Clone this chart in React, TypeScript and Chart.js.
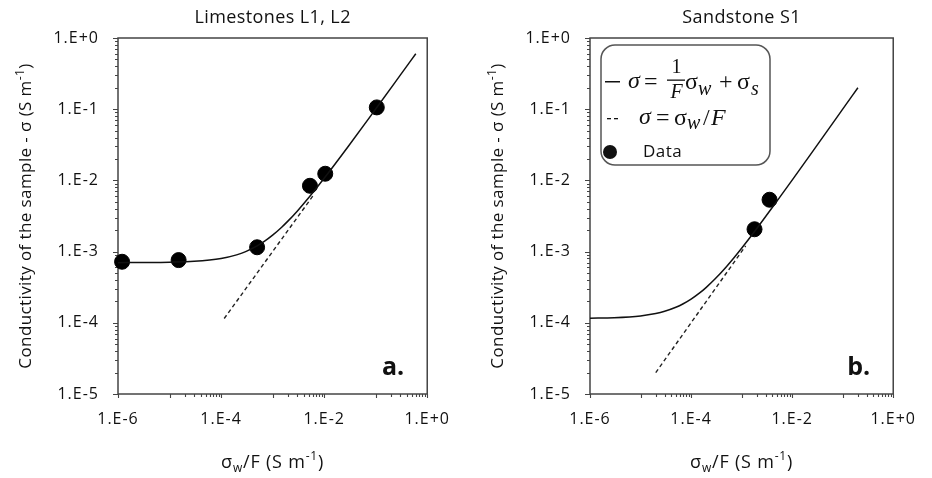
import React, { useEffect, useRef } from 'react';
import { Chart, registerables } from 'chart.js';

Chart.register(...registerables);

// ---------- data ----------
const limeDataX = [1.2e-6, 1.5e-5, 5.0e-4, 5.3e-3, 1.05e-2, 0.105];
const limeDataY = [7.2e-4, 7.6e-4, 1.15e-3, 8.4e-3, 1.24e-2, 0.106];
const limeModelX = [1e-6, 3e-6, 1e-5, 3e-5, 1e-4, 2e-4, 3e-4, 5e-4, 7e-4, 1e-3, 1.5e-3, 2e-3, 3e-3, 5e-3, 1e-2, 3e-2, 0.1, 0.3, 0.6];
const limeModelY = [7.0e-4, 7.03e-4, 7.1e-4, 7.3e-4, 8.0e-4, 9.0e-4, 1.0e-3, 1.2e-3, 1.4e-3, 1.7e-3, 2.2e-3, 2.7e-3, 3.7e-3, 5.7e-3, 1.07e-2, 3.07e-2, 0.1007, 0.3007, 0.6007];
const limeArchieX = [1.15e-4, 6e-3];
const limeArchieY = [1.15e-4, 6e-3];

const sandDataX = [1.8e-3, 3.57e-3];
const sandDataY = [2.06e-3, 5.35e-3];
const sandModelX = [1e-6, 3e-6, 1e-5, 2e-5, 3e-5, 5e-5, 7e-5, 1e-4, 1.5e-4, 2e-4, 3e-4, 5e-4, 7e-4, 1e-3, 2e-3, 5e-3, 1e-2, 3e-2, 0.1, 0.2];
const sandModelY = [1.16e-4, 1.18e-4, 1.25e-4, 1.35e-4, 1.45e-4, 1.65e-4, 1.85e-4, 2.15e-4, 2.65e-4, 3.15e-4, 4.15e-4, 6.15e-4, 8.15e-4, 1.115e-3, 2.115e-3, 5.115e-3, 1.01e-2, 3.01e-2, 0.1001, 0.2001];
const sandArchieX = [2e-5, 1.2e-3];
const sandArchieY = [2e-5, 1.2e-3];

const xTickValues = [1e-6, 1e-4, 1e-2, 1];
const xTickLabels = ['1.E-6', '1.E-4', '1.E-2', '1.E+0'];
const yTickValues = [1e-5, 1e-4, 1e-3, 1e-2, 1e-1, 1];
const yTickLabels = ['1.E-5', '1.E-4', '1.E-3', '1.E-2', '1.E-1', '1.E+0'];
const xDecades = [1e-6, 1e-5, 1e-4, 1e-3, 1e-2, 1e-1, 1];
const xMinorDecades = [1e-5, 1e-3, 1e-1];
const yMinorDecades = [1e-5, 1e-4, 1e-3, 1e-2, 1e-1];
const minorSteps = [2, 3, 4, 5, 6, 7, 8, 9];

const TEXT = '#111';
const SANS = '"Open Sans", "Noto Sans", sans-serif';
const SERIF = '"Liberation Serif", "DejaVu Serif", serif';

type Part = { t: string; size: number; dy: number; style?: string };

function drawParts(ctx: any, parts: Part[], cx: number, baseY: number, spacing: string) {
  ctx.letterSpacing = spacing;
  let total = 0;
  const widths = parts.map((p) => {
    ctx.font = `${p.style || ''} ${p.size}px ${SANS}`;
    const w = ctx.measureText(p.t).width;
    total += w;
    return w;
  });
  let x = cx - total / 2;
  ctx.textAlign = 'left';
  ctx.textBaseline = 'alphabetic';
  parts.forEach((p, i) => {
    ctx.font = `${p.style || ''} ${p.size}px ${SANS}`;
    ctx.fillText(p.t, x, baseY + p.dy);
    x += widths[i];
  });
}

function glyph(ctx: any, t: string, x: number, y: number, font: string, align: CanvasTextAlign = 'left', base: CanvasTextBaseline = 'alphabetic') {
  ctx.font = font;
  ctx.textAlign = align;
  ctx.textBaseline = base;
  ctx.fillText(t, x, y);
}

function makeDecor(title: string, label: string, legend: boolean) {
  return {
    id: 'decor',
    beforeUpdate(chart: any) {
      chart.ctx.letterSpacing = '1px';
    },
    beforeDraw(chart: any) {
      chart.ctx.letterSpacing = '1px';
    },
    beforeDatasetsDraw(chart: any) {
      const { ctx, chartArea: a, scales } = chart;
      const x = scales.x;
      const y = scales.y;
      ctx.save();
      ctx.strokeStyle = '#444';
      ctx.lineWidth = 1.5;
      ctx.strokeRect(a.left, a.top, a.right - a.left, a.bottom - a.top);
      ctx.lineWidth = 1.1;
      ctx.beginPath();
      for (const v of yTickValues) {
        const py = Math.round(y.getPixelForValue(v)) + 0.5;
        ctx.moveTo(a.left - 5, py);
        ctx.lineTo(a.left, py);
      }
      for (const d of yMinorDecades)
        for (const k of minorSteps) {
          const py = Math.round(y.getPixelForValue(k * d)) + 0.5;
          ctx.moveTo(a.left - 3, py);
          ctx.lineTo(a.left, py);
        }
      for (const v of xDecades) {
        const px = Math.round(x.getPixelForValue(v)) + 0.5;
        ctx.moveTo(px, a.bottom);
        ctx.lineTo(px, a.bottom + 4);
      }
      for (const d of xMinorDecades)
        for (const k of minorSteps) {
          const px = Math.round(x.getPixelForValue(k * d)) + 0.5;
          ctx.moveTo(px, a.bottom);
          ctx.lineTo(px, a.bottom + 3);
        }
      ctx.stroke();
      ctx.restore();
    },
    afterDraw(chart: any) {
      const { ctx, chartArea: a } = chart;
      const cx = (a.left + a.right) / 2;
      ctx.save();
      ctx.fillStyle = TEXT;
      // title
      ctx.letterSpacing = '0.4px';
      glyph(ctx, title, cx, 18, `18px ${SANS}`, 'center', 'middle');
      // panel label
      ctx.letterSpacing = '0px';
      glyph(ctx, label, a.right - 23, a.bottom - 19, `bold 25px ${SANS}`, 'right', 'alphabetic');
      // x axis title
      drawParts(ctx, [
        { t: 'σ', size: 18, dy: 0 },
        { t: 'w', size: 12, dy: 4 },
        { t: '/F (S m', size: 18, dy: 0 },
        { t: '-1', size: 12, dy: -8 },
        { t: ')', size: 18, dy: 0 },
      ], cx, 468, '0.8px');
      // y axis title
      ctx.save();
      ctx.translate(a.left - 92, (a.top + a.bottom) / 2);
      ctx.rotate(-Math.PI / 2);
      drawParts(ctx, [
        { t: 'Conductivity of the sample - σ (S m', size: 17, dy: 0 },
        { t: '-1', size: 12, dy: -7 },
        { t: ')', size: 17, dy: 0 },
      ], 0, 5, '0.4px');
      ctx.restore();

      if (legend) {
        ctx.letterSpacing = '0px';
        const x0 = a.left + 11;
        const y0 = a.top + 7;
        ctx.fillStyle = '#ffffff';
        ctx.strokeStyle = '#555';
        ctx.lineWidth = 1.5;
        ctx.beginPath();
        ctx.roundRect(x0, y0, 169, 120, 14);
        ctx.fill();
        ctx.stroke();
        ctx.fillStyle = TEXT;
        const it = `italic 24px ${SERIF}`;
        const up = `24px ${SERIF}`;
        const sm = `italic 20px ${SERIF}`;
        // row 1
        ctx.fillRect(x0 + 4, y0 + 36, 15, 1.5);
        glyph(ctx, 'σ', x0 + 27, y0 + 43, it);
        glyph(ctx, '=', x0 + 43, y0 + 44, up);
        glyph(ctx, '1', x0 + 75.5, y0 + 28, `20px ${SERIF}`, 'center');
        ctx.fillRect(x0 + 66, y0 + 34.5, 18, 1.3);
        glyph(ctx, 'F', x0 + 75.5, y0 + 53, `italic 20px ${SERIF}`, 'center');
        glyph(ctx, 'σ', x0 + 84, y0 + 44, up);
        glyph(ctx, 'w', x0 + 97, y0 + 50, sm);
        glyph(ctx, '+', x0 + 118, y0 + 44, up);
        glyph(ctx, 'σ', x0 + 136, y0 + 44, up);
        glyph(ctx, 's', x0 + 150, y0 + 50, sm);
        // row 2
        ctx.fillRect(x0 + 6, y0 + 73, 4, 1.3);
        ctx.fillRect(x0 + 13, y0 + 73, 4, 1.3);
        glyph(ctx, 'σ', x0 + 38, y0 + 79, it);
        glyph(ctx, '=', x0 + 55, y0 + 80, up);
        glyph(ctx, 'σ', x0 + 73, y0 + 80, up);
        glyph(ctx, 'w', x0 + 86, y0 + 84, sm);
        glyph(ctx, '/', x0 + 102, y0 + 80, up);
        glyph(ctx, 'F', x0 + 110, y0 + 80, it);
        // row 3
        ctx.beginPath();
        ctx.arc(x0 + 9, y0 + 107, 7, 0, Math.PI * 2);
        ctx.fill();
        ctx.letterSpacing = '0.5px';
        glyph(ctx, 'Data', x0 + 42, y0 + 107, `17px ${SANS}`, 'left', 'middle');
      }
      ctx.restore();
    },
  };
}

type PanelProps = {
  title: string;
  label: string;
  dataX: number[];
  dataY: number[];
  modelX: number[];
  modelY: number[];
  archieX: number[];
  archieY: number[];
  legend: boolean;
  yWidth: number;
  padRight: number;
  width: number;
};

function Panel(p: PanelProps) {
  const ref = useRef<HTMLCanvasElement>(null);
  useEffect(() => {
    if (!ref.current) return;
    const pts = (xs: number[], ys: number[]) => xs.map((x, i) => ({ x, y: ys[i] }));
    const chart = new Chart(ref.current, {
      type: 'scatter',
      data: {
        datasets: [
          {
            label: 'σ = σw/F + σs',
            data: pts(p.modelX, p.modelY),
            showLine: true,
            borderColor: '#111',
            borderWidth: 1.5,
            pointRadius: 0,
            cubicInterpolationMode: 'monotone',
          },
          {
            label: 'σ = σw/F',
            data: pts(p.archieX, p.archieY),
            showLine: true,
            borderColor: '#222',
            borderWidth: 1.4,
            borderDash: [4, 3],
            pointRadius: 0,
          },
          {
            label: 'Data',
            data: pts(p.dataX, p.dataY),
            showLine: false,
            backgroundColor: '#000',
            borderColor: '#000',
            pointRadius: 7.5,
            pointHoverRadius: 7.5,
            clip: false as any,
          },
        ],
      } as any,
      options: {
        animation: false,
        responsive: false,
        maintainAspectRatio: false,
        layout: { padding: { left: 0, right: p.padRight, top: 38, bottom: 0 } },
        plugins: { legend: { display: false }, tooltip: { enabled: false }, title: { display: false } },
        events: [],
        scales: {
          x: {
            type: 'logarithmic',
            position: 'bottom',
            min: 1e-6,
            max: 1,
            grid: { display: false, drawTicks: false },
            border: { display: false },
            afterBuildTicks: (s: any) => {
              s.ticks = xTickValues.map((v) => ({ value: v }));
            },
            afterFit: (s: any) => {
              s.height = 84;
            },
            ticks: {
              autoSkip: false,
              maxRotation: 0,
              padding: 16,
              color: TEXT,
              font: { family: SANS, size: 16 },
              callback: (v: any) => {
                const i = xTickValues.findIndex((t) => Math.abs(Math.log10(t) - Math.log10(Number(v))) < 1e-6);
                return i >= 0 ? xTickLabels[i] : '';
              },
            },
          },
          y: {
            type: 'logarithmic',
            position: 'left',
            min: 1e-5,
            max: 1,
            grid: { display: false, drawTicks: false },
            border: { display: false },
            afterBuildTicks: (s: any) => {
              s.ticks = yTickValues.map((v) => ({ value: v }));
            },
            afterFit: (s: any) => {
              s.width = p.yWidth;
            },
            ticks: {
              autoSkip: false,
              padding: 19,
              color: TEXT,
              font: { family: SANS, size: 16 },
              callback: (v: any) => {
                const i = yTickValues.findIndex((t) => Math.abs(Math.log10(t) - Math.log10(Number(v))) < 1e-6);
                return i >= 0 ? yTickLabels[i] : '';
              },
            },
          },
        },
      } as any,
      plugins: [makeDecor(p.title, p.label, p.legend)],
    });
    return () => chart.destroy();
  }, []);
  return <canvas ref={ref} width={p.width} height={478} style={{ width: p.width, height: 478, display: 'block' }} />;
}

export default function App() {
  return (
    <div style={{ position: 'fixed', left: 0, top: 0, width: 932, height: 478, background: '#fff' }}>
      <div style={{ position: 'absolute', left: 0, top: 0 }}>
        <Panel
          title="Limestones L1, L2"
          label="a."
          dataX={limeDataX}
          dataY={limeDataY}
          modelX={limeModelX}
          modelY={limeModelY}
          archieX={limeArchieX}
          archieY={limeArchieY}
          legend={false}
          yWidth={118}
          padRight={38}
          width={466}
        />
      </div>
      <div style={{ position: 'absolute', left: 466, top: 0 }}>
        <Panel
          title="Sandstone S1"
          label="b."
          dataX={sandDataX}
          dataY={sandDataY}
          modelX={sandModelX}
          modelY={sandModelY}
          archieX={sandArchieX}
          archieY={sandArchieY}
          legend={true}
          yWidth={124}
          padRight={33}
          width={466}
        />
      </div>
    </div>
  );
}
